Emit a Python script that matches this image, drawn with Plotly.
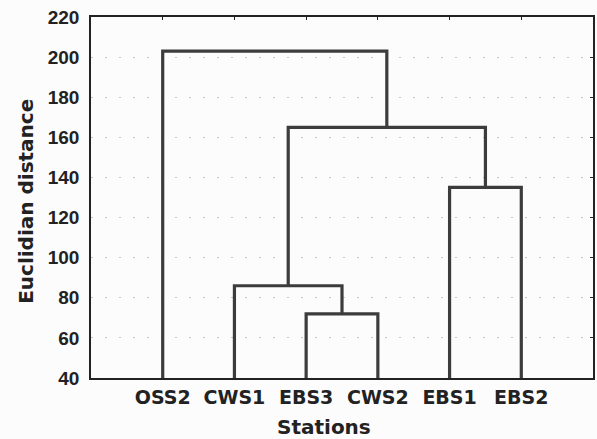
import plotly.graph_objects as go

# Data
leaves = ["OSS2", "CWS1", "EBS3", "CWS2", "EBS1", "EBS2"]
# linkage: clusters 0-5 are leaves, new clusters numbered 6, 7, ...
link_left = [2, 1, 4, 7, 0]
link_right = [3, 6, 5, 8, 9]
link_height = [72, 86, 135, 165, 203]
y_ticks = [40, 60, 80, 100, 120, 140, 160, 180, 200, 220]
base = 40

# positions of clusters
pos = {i: i + 1 for i in range(len(leaves))}
hgt = {i: base for i in range(len(leaves))}
xs, ys = [], []
for k, (a, b, h) in enumerate(zip(link_left, link_right, link_height)):
    cid = len(leaves) + k
    xs += [pos[a], pos[a], pos[b], pos[b], None]
    ys += [hgt[a], h, h, hgt[b], None]
    pos[cid] = (pos[a] + pos[b]) / 2
    hgt[cid] = h

font = "Liberation Sans, Arial, sans-serif"
font2 = "DejaVu Sans, Verdana, sans-serif"
fig = go.Figure()
fig.add_trace(go.Scatter(x=xs, y=ys, mode="lines",
                         line=dict(color="#3c3c3c", width=3.2),
                         hoverinfo="skip", showlegend=False))
# invisible trace for mirrored axes
fig.add_trace(go.Scatter(x=[1], y=[100], xaxis="x2", yaxis="y2", mode="markers",
                         marker=dict(opacity=0), showlegend=False, hoverinfo="skip"))

fig.update_layout(
    width=597, height=439,
    margin=dict(l=91, r=2, t=17, b=61),
    paper_bgcolor="#fcfcfc", plot_bgcolor="#fcfcfc",
    xaxis=dict(range=[0, 7], tickvals=list(range(1, len(leaves) + 1)), ticktext=leaves,
               showgrid=False, zeroline=False, showline=True, linecolor="#222",
               linewidth=1.5, mirror=True, ticks="", ticklabelstandoff=1,
               tickfont=dict(family=font2, size=19, color="#222", weight="bold")),
    yaxis=dict(range=[40, 220], tickvals=y_ticks, showgrid=True, gridcolor="#c4c4c4",
               griddash="2px,12px", gridwidth=1, zeroline=False, showline=True,
               linecolor="#222", linewidth=1.5, mirror=True, ticks="",
               ticklabelstandoff=6,
               tickfont=dict(family=font, size=19, color="#222", weight="bold")),
    xaxis2=dict(range=[0, 7], overlaying="x", side="top", tickvals=list(range(1, 7)),
                showticklabels=False, ticks="inside", ticklen=3, tickcolor="#222",
                showgrid=False, zeroline=False),
    yaxis2=dict(range=[40, 220], overlaying="y", side="right", tickvals=y_ticks,
                showticklabels=False, ticks="inside", ticklen=3, tickcolor="#222",
                showgrid=False, zeroline=False),
    annotations=[
        dict(text="Euclidian distance", xref="paper", yref="paper",
             x=-0.13, y=0.49, xanchor="center", yanchor="middle", textangle=-90,
             showarrow=False,
             font=dict(family=font2, size=20, color="#222", weight="bold")),
        dict(text="Stations", xref="paper", yref="paper",
             x=0.464, y=-0.135, xanchor="center", yanchor="middle",
             showarrow=False,
             font=dict(family=font2, size=20, color="#222", weight="bold")),
    ],
)
fig.write_html("out.html", config={"displayModeBar": False},
               post_script="document.body.style.margin='0';")
